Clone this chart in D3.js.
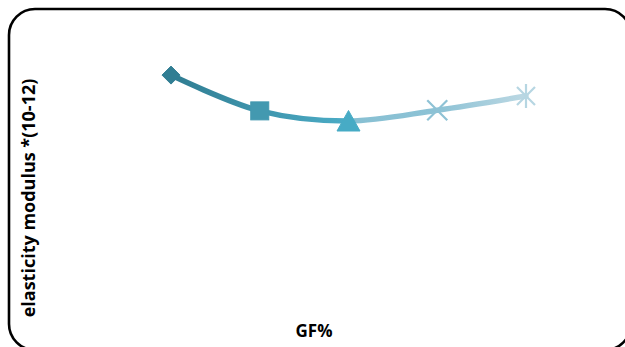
<!DOCTYPE html>
<html><head><meta charset="utf-8">
<script src="https://cdn.jsdelivr.net/npm/d3@7"></script>
<style>body{margin:0;background:#fff}svg{display:block}</style>
</head><body><svg id="c" width="625" height="347"></svg>
<script>
const categories = ["0", "5", "10", "15", "20"];
const values = [3.48, 2.95, 2.80, 2.96, 3.17];
const markers = ["diamond", "square", "triangle", "cross", "asterisk"];
const colors = ["#317e93", "#4399b0", "#47abc5", "#8ec2d5", "#b6d6e2"];
const yLabel = "elasticity modulus *(10-12)";
const xLabel = "GF%";

const svg = d3.select("#c");
svg.append("rect").attr("x", 9).attr("y", 9).attr("width", 622).attr("height", 341)
  .attr("rx", 26).attr("ry", 26).attr("fill", "#fff").attr("stroke", "#000").attr("stroke-width", 2.6);

const x = d3.scalePoint().domain(categories).range([171, 526]);
const y = d3.scaleLinear().domain([0, 4]).range([310, 40]);

const pts = categories.map((c, i) => ({c, v: values[i], m: markers[i], col: colors[i]}));

const defs = svg.append("defs");
const g = defs.append("linearGradient").attr("id", "lg").attr("gradientUnits", "userSpaceOnUse")
  .attr("x1", x(categories[0])).attr("x2", x(categories[categories.length - 1])).attr("y1", 0).attr("y2", 0);
const span = x(categories[categories.length - 1]) - x(categories[0]);
const stops = [
  [x(categories[0]), "#2f7c91"], [x(categories[1]), "#3f95ad"], [x(categories[2]) - 5, "#4aabc5"],
  [x(categories[2]) + 8, "#88c0d3"], [x(categories[3]), "#8cc2d5"], [x(categories[4]), "#bcd8e3"]
];
stops.forEach(s => {
  g.append("stop").attr("offset", (s[0] - x(categories[0])) / span).attr("stop-color", s[1]);
});

const line = d3.line().x(d => x(d.c)).y(d => y(d.v)).curve(d3.curveCatmullRom.alpha(0.5));
svg.append("path").datum(pts).attr("d", line).attr("fill", "none")
  .attr("stroke", "url(#lg)").attr("stroke-width", 5.5).attr("stroke-linecap", "round");

const mk = svg.append("g");
pts.forEach(d => {
  const cx = x(d.c), cy = y(d.v);
  const gg = mk.append("g").attr("transform", `translate(${cx},${cy})`);
  if (d.m === "diamond") {
    gg.append("path").attr("d", "M0,-9L9,0L0,9L-9,0Z").attr("fill", d.col).attr("stroke", d.col).attr("stroke-width", 1).attr("stroke-linejoin", "round");
  } else if (d.m === "square") {
    gg.append("rect").attr("x", -9).attr("y", -9).attr("width", 18).attr("height", 18).attr("fill", d.col).attr("stroke", d.col).attr("stroke-width", 1);
  } else if (d.m === "triangle") {
    gg.append("path").attr("d", "M0,-10.5L11.5,10L-11.5,10Z").attr("fill", d.col).attr("stroke", d.col).attr("stroke-width", 1).attr("stroke-linejoin", "round");
  } else if (d.m === "cross") {
    gg.append("path").attr("d", "M-10,-10L10,10M10,-10L-10,10").attr("stroke", d.col).attr("stroke-width", 2.2);
  } else {
    gg.append("path").attr("d", "M-9,-9L9,9M9,-9L-9,9M0,-12L0,12").attr("stroke", d.col).attr("stroke-width", 2.2);
  }
});

svg.append("text").attr("transform", "translate(35,198) rotate(-90)").attr("text-anchor", "middle")
  .attr("font-family", "Open Sans").attr("font-weight", "bold").attr("font-size", 18).attr("fill", "#000").text(yLabel);
svg.append("text").attr("x", 314).attr("y", 337).attr("text-anchor", "middle")
  .attr("font-family", "Open Sans").attr("font-weight", "bold").attr("font-size", 17).attr("fill", "#000").text(xLabel);
</script></body></html>
